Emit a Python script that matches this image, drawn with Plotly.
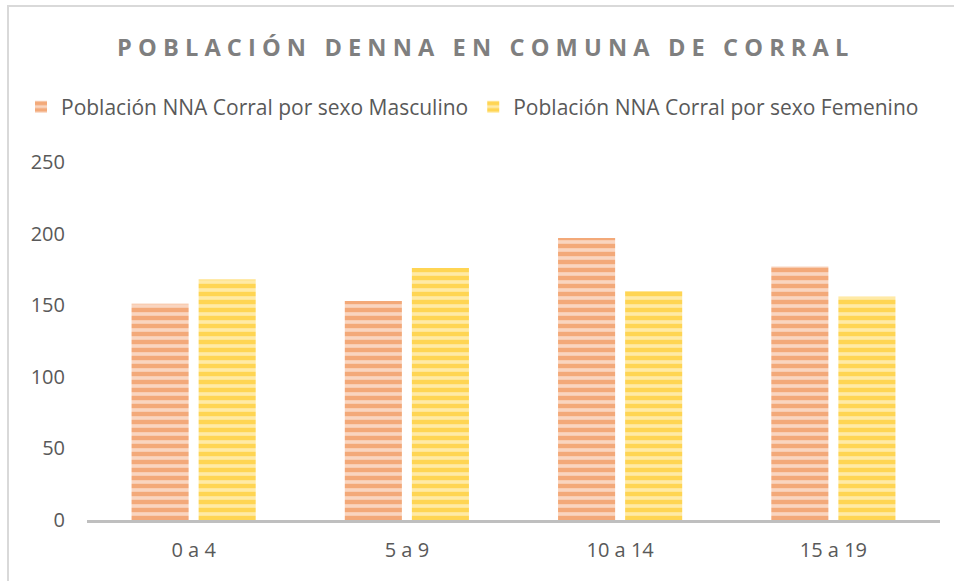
import plotly.graph_objects as go

categories = ["0 a 4", "5 a 9", "10 a 14", "15 a 19"]
masculino = [151, 153, 197, 177]
femenino = [168, 176, 160, 156]
series_names = ["Población NNA Corral por sexo Masculino", "Población NNA Corral por sexo Femenino"]
tick_vals = [0, 50, 100, 150, 200, 250]

title_text = "POBLACIÓN DENNA EN COMUNA DE CORRAL"
spaced_title = "\u00a0\u00a0\u00a0".join("\u00a0".join(w) for w in title_text.split(" "))

fig = go.Figure()
fig.add_trace(go.Bar(
    x=categories, y=masculino, name=series_names[0],
    marker=dict(color="#F8CBAD", line=dict(width=0),
                pattern=dict(shape="-", fgcolor="#ED7D31", bgcolor="#F9D5C0", size=8, solidity=0.55)),
))
fig.add_trace(go.Bar(
    x=categories, y=femenino, name=series_names[1],
    marker=dict(color="#FFE699", line=dict(width=0),
                pattern=dict(shape="-", fgcolor="#FFC000", bgcolor="#FFEAA6", size=8, solidity=0.55)),
))

W, H = 954, 581
L, R, T, B = 87, 14, 162, 61
pw, ph = W - L - R, H - T - B

fig.update_layout(
    width=W, height=H,
    margin=dict(l=L, r=R, t=T, b=B),
    paper_bgcolor="white", plot_bgcolor="white",
    barmode="group", bargap=0.371, bargroupgap=0.149,
    font=dict(family="Open Sans, sans-serif", color="#595959", size=20),
    title=dict(text="<b>" + spaced_title + "</b>", x=0.506, xanchor="center", y=1 - 48 / H, yanchor="middle",
               font=dict(size=23.6, color="#7F7F7F", family="Open Sans, sans-serif")),
    legend=dict(orientation="h", x=(21 - L) / pw, xanchor="left", y=1 + 55 / ph, yanchor="middle",
                font=dict(size=21, color="#595959"), itemwidth=30, tracegroupgap=0),
    xaxis=dict(showline=True, linecolor="#BFBFBF", linewidth=3, ticks="", showgrid=False,
               tickfont=dict(size=20, color="#595959"), ticklabelstandoff=10),
    yaxis=dict(range=[0, 250], tickvals=tick_vals, showgrid=False, zeroline=False, showline=False,
               ticks="", tickfont=dict(size=20, color="#595959"), ticklabelstandoff=21),
    shapes=[dict(type="rect", xref="paper", yref="paper",
                 x0=(8 - L) / pw, x1=(970 - L) / pw, y0=-(600 - T - ph) / ph, y1=1 + (T - 6) / ph,
                 line=dict(color="#D9D9D9", width=2))],
)

fig.write_html("out.html", config={"displayModeBar": False},
               post_script="document.body.style.margin='0px';")
